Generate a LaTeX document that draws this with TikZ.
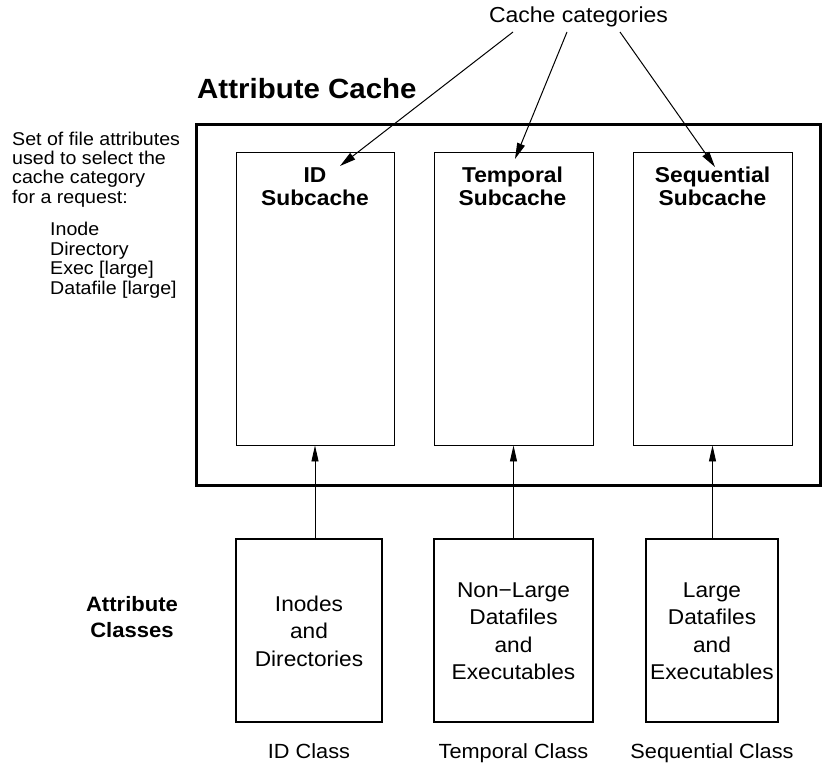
\documentclass[tikz,border=0pt]{standalone}
\usepackage{fontspec}
\setmainfont{Liberation Sans}[FakeStretch=1.06]
\usetikzlibrary{arrows.meta}
\begin{document}
\begin{tikzpicture}[x=1pt,y=-1pt,
  thinbox/.style={draw,line width=0.9pt,inner sep=0pt},
  classbox/.style={draw,line width=1.4pt,inner sep=0pt},
  bigbox/.style={draw,line width=3pt,inner sep=0pt},
  txt/.style={inner sep=0pt,align=center,font=\fontsize{21.4}{27.5}\selectfont},
  lbl/.style={inner sep=0pt,anchor=base,font=\fontsize{20.5}{24}\selectfont},
  hdr/.style={inner sep=0pt,align=center,anchor=base,font=\fontsize{21.5}{22.5}\selectfont\bfseries},
  side/.style={inner sep=0pt,align=left,anchor=base west,font=\fontsize{18.5}{19.5}\selectfont},
  arr/.style={line width=1pt,-{Triangle[length=16pt,width=8pt]}},
  uparr/.style={line width=0.9pt,-{Triangle[length=16pt,width=7pt]}}
]
\useasboundingbox (0,0) rectangle (833,765);
% big box
\node[bigbox,minimum width=624,minimum height=360] (cache) at (508,305) {};
\node[inner sep=0pt,anchor=base west,font=\fontsize{27.8}{30}\selectfont\bfseries] (title) at (197,99) {Attribute Cache};
% subcaches
\node[thinbox,minimum width=158,minimum height=293] (ids) at (315,298.5) {};
\node[thinbox,minimum width=159,minimum height=293] (ts) at (513.5,298.5) {};
\node[thinbox,minimum width=159,minimum height=293] (ss) at (712.5,298.5) {};
\node[hdr] (idl) at (315,205) {ID\\Subcache};
\node[hdr] (tsl) at (512.5,205) {Temporal\\Subcache};
\node[hdr] (ssl) at (712.5,205) {Sequential\\Subcache};
% cache categories
\node[inner sep=0pt,anchor=base,font=\fontsize{21.7}{24}\selectfont] (cc) at (578.5,23) {Cache categories};
\coordinate (c1) at (513,32);
\coordinate (c2) at (567,32);
\coordinate (c3) at (620,32);
\coordinate (t1) at (340,166);
\coordinate (t2) at (515,159);
\coordinate (t3) at (715,167);
\draw[arr] (c1) -- (t1);
\draw[arr] (c2) -- (t2);
\draw[arr] (c3) -- (t3);
% side text
\node[side] (sideA) at (12,203.5) {Set of file attributes\\used to select the\\cache category\\for a request:};
\node[side] (sideB) at (50,294) {Inode\\Directory\\Exec [large]\\Datafile [large]};
% classes
\node[classbox,minimum width=146,minimum height=183] (idc) at (309,630.5) {};
\node[classbox,minimum width=159,minimum height=183] (tc) at (513.5,630.5) {};
\node[classbox,minimum width=132,minimum height=183] (sc) at (712,630.5) {};
\node[txt] (idt) at (309,631) {Inodes\\and\\Directories};
\node[txt] (tt) at (513.5,631) {Non{\textminus}Large\\Datafiles\\and\\Executables};
\node[txt] (st) at (712,631) {Large\\Datafiles\\and\\Executables};
\node[hdr,font=\fontsize{20.8}{26}\selectfont\bfseries] (acl) at (132,637) {Attribute\\Classes};
\node[lbl] (idn) at (309,758) {ID Class};
\node[lbl] (tn) at (513.5,758) {Temporal Class};
\node[lbl] (sn) at (712,758) {Sequential Class};
% arrows up
\draw[uparr] (idc.north -| ids.south) -- (ids.south);
\draw[uparr] (tc.north -| ts.south) -- (ts.south);
\draw[uparr] (sc.north -| ss.south) -- (ss.south);
\end{tikzpicture}
\end{document}
